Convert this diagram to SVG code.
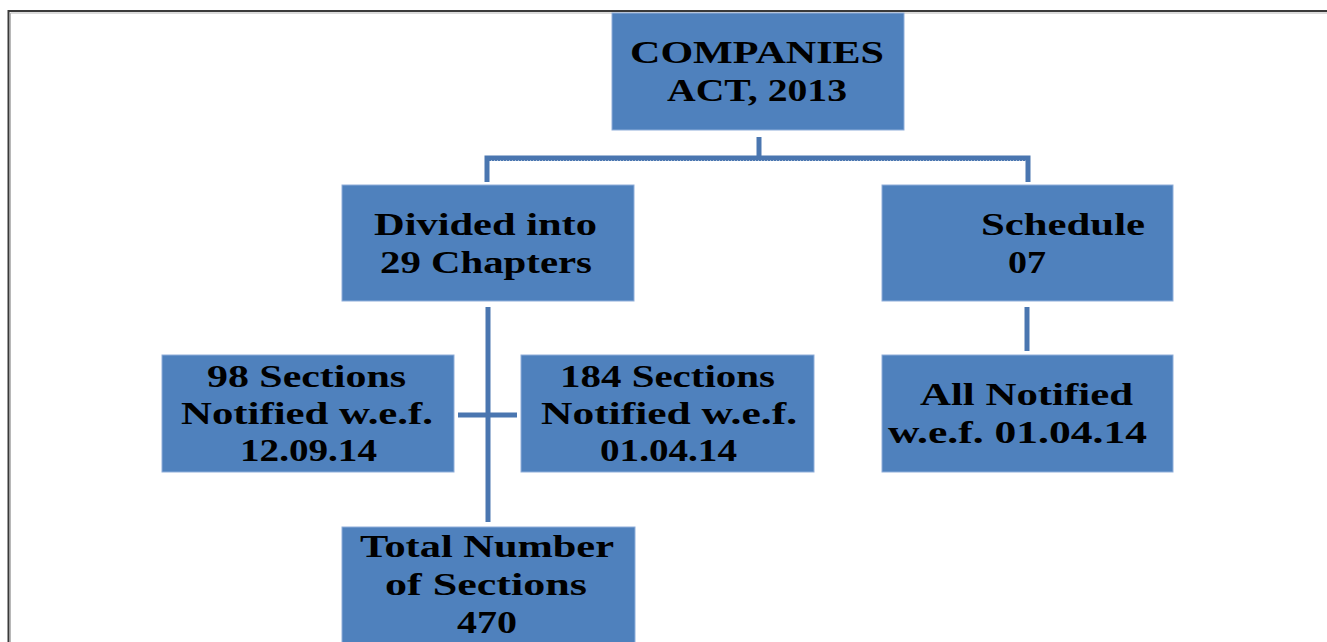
<svg xmlns="http://www.w3.org/2000/svg" width="1327" height="642" viewBox="0 0 1327 642">
<style>
.box{fill:#4F81BD;stroke:#8FAEDA;stroke-width:1}
.t{font-family:"Liberation Serif","Times New Roman",serif;font-weight:bold;font-size:32px;fill:#000}
.c{stroke:#4A76B0;stroke-width:5;fill:none}
.cd{stroke:#4A76B0;stroke-width:4;fill:none;stroke-dasharray:2 1}
</style>
<rect x="0" y="0" width="1327" height="642" fill="#fff"/>
<g id="frame">
<path d="M1327 11 H8.5 V642" fill="none" stroke="#3a3a3a" stroke-width="2"/>
<path d="M1327 13 H10.5 V642" fill="none" stroke="#b8b8b8" stroke-width="1"/>
</g>
<g id="connectors">
<path class="c" d="M759 137 V158"/>
<path class="c" d="M487 182 V158 H1028 V182"/>
<path class="cd" d="M489 159 H1026"/>
<path class="c" d="M488 307 V522"/>
<path class="c" d="M458 415 H517"/>
<path class="c" d="M1027 307 V351"/>
</g>
<g id="companies">
<rect class="box" x="612" y="13" width="292" height="117"/>
<text class="t" x="630" y="63" textLength="254" lengthAdjust="spacingAndGlyphs">COMPANIES</text>
<text class="t" x="667" y="101" textLength="180" lengthAdjust="spacingAndGlyphs">ACT, 2013</text>
</g>
<g id="chapters">
<rect class="box" x="342" y="185" width="292" height="116"/>
<text class="t" x="374" y="235" textLength="223" lengthAdjust="spacingAndGlyphs">Divided into</text>
<text class="t" x="380" y="273" textLength="212" lengthAdjust="spacingAndGlyphs">29 Chapters</text>
</g>
<g id="schedule">
<rect class="box" x="882" y="185" width="291" height="116"/>
<text class="t" x="981" y="235" textLength="164" lengthAdjust="spacingAndGlyphs">Schedule</text>
<text class="t" x="1008" y="273" textLength="38" lengthAdjust="spacingAndGlyphs">07</text>
</g>
<g id="sections98">
<rect class="box" x="162" y="355" width="292" height="117"/>
<text class="t" x="207" y="387" textLength="199" lengthAdjust="spacingAndGlyphs">98 Sections</text>
<text class="t" x="181" y="424" textLength="252" lengthAdjust="spacingAndGlyphs">Notified w.e.f.</text>
<text class="t" x="240" y="461" textLength="137" lengthAdjust="spacingAndGlyphs">12.09.14</text>
</g>
<g id="sections184">
<rect class="box" x="521" y="355" width="293" height="117"/>
<text class="t" x="560" y="387" textLength="215" lengthAdjust="spacingAndGlyphs">184 Sections</text>
<text class="t" x="541" y="424" textLength="256" lengthAdjust="spacingAndGlyphs">Notified w.e.f.</text>
<text class="t" x="600" y="461" textLength="137" lengthAdjust="spacingAndGlyphs">01.04.14</text>
</g>
<g id="allnotified">
<rect class="box" x="882" y="355" width="291" height="117"/>
<text class="t" x="920" y="405" textLength="213" lengthAdjust="spacingAndGlyphs">All Notified</text>
<text class="t" x="888" y="443" textLength="259" lengthAdjust="spacingAndGlyphs">w.e.f. 01.04.14</text>
</g>
<g id="total">
<rect class="box" x="342" y="527" width="293" height="130"/>
<text class="t" x="360" y="557" textLength="254" lengthAdjust="spacingAndGlyphs">Total Number</text>
<text class="t" x="385" y="595" textLength="202" lengthAdjust="spacingAndGlyphs">of  Sections</text>
<text class="t" x="457" y="633" textLength="60" lengthAdjust="spacingAndGlyphs">470</text>
</g>
</svg>
